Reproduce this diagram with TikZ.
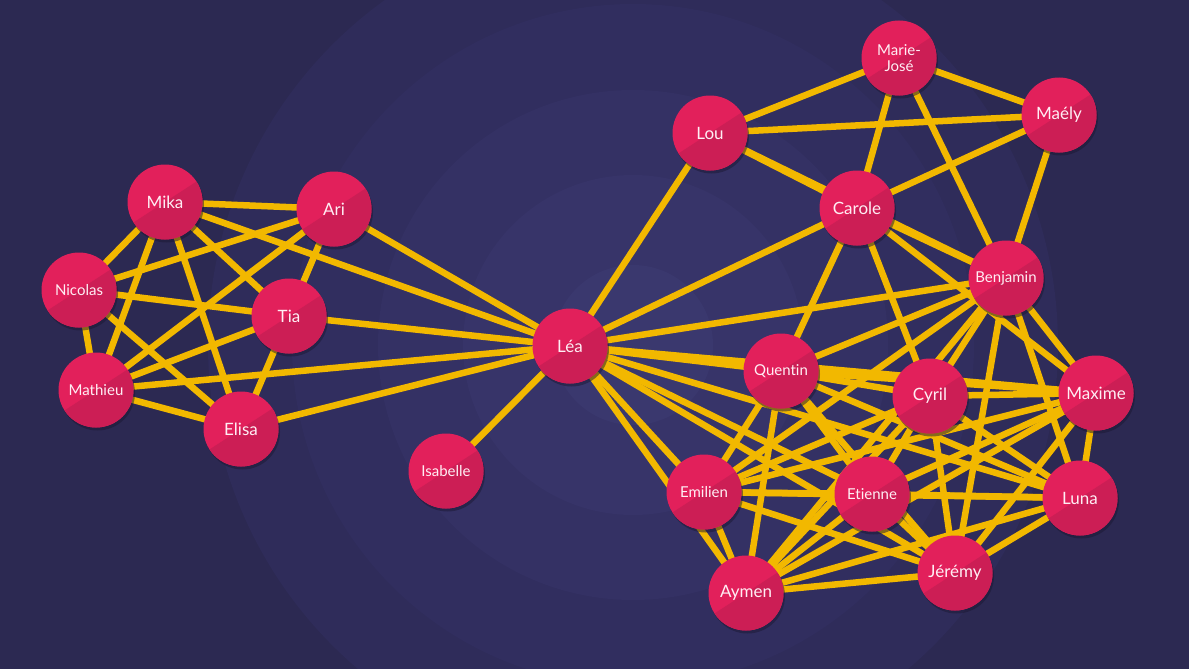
\documentclass[tikz,border=0pt]{standalone}
\usepackage{fontspec}
\setmainfont{Lato}[Ligatures=NoCommon]
\usetikzlibrary{shadows}
\definecolor{bgA}{RGB}{44,41,82}
\definecolor{bgB}{RGB}{47,44,90}
\definecolor{bgC}{RGB}{49,46,95}
\definecolor{bgD}{RGB}{52,49,100}
\definecolor{bgE}{RGB}{55,52,105}
\definecolor{bgF}{RGB}{58,56,110}
\definecolor{edgecol}{RGB}{242,184,0}
\definecolor{nlight}{RGB}{226,32,91}
\definecolor{ndark}{RGB}{204,30,85}
\definecolor{ntext}{RGB}{255,238,244}
\definecolor{shadowcol}{RGB}{28,25,52}
\pgfdeclarelayer{bglayer}
\pgfdeclarelayer{edgelayer}
\pgfsetlayers{bglayer,edgelayer,main}
\begin{document}
\begin{tikzpicture}[x=1pt,y=-1pt,
  person/.style={circle, minimum size=75pt, inner sep=0pt, fill=nlight,
    text=ntext, align=center,
    drop shadow={shadow xshift=1.5pt, shadow yshift=-3pt, opacity=0.5, fill=shadowcol},
    path picture={\fill[ndark] (path picture bounding box.center) ++(213:60pt)
       -- ++(33:120pt) -- ++(-57:60pt) -- ++(213:120pt) -- cycle;}},
  big/.style={font=\fontsize{17}{18}\selectfont},
  small/.style={font=\fontsize{15}{15.5}\selectfont},
  edge/.style={draw=edgecol, line width=6.5pt}]
\useasboundingbox (0,0) rectangle (1189,669);
\begin{pgfonlayer}{bglayer}
  \fill[bgA] (0,0) rectangle (1189,669);
  \fill[bgB] (633,345) circle[radius=425pt];
  \fill[bgC] (633,345) circle[radius=341pt];
  \fill[bgD] (633,345) circle[radius=255pt];
  \fill[bgE] (633,345) circle[radius=170pt];
  \fill[bgF] (633,345) circle[radius=80pt];
\end{pgfonlayer}
% nodes
\node[person,big]   (mika)    at (165,202) {Mika};
\node[person,big]   (ari)     at (334,209) {Ari};
\node[person,small] (nicolas) at (79,290)  {Nicolas};
\node[person,big]   (tia)     at (289,316) {Tia};
\node[person,small] (mathieu) at (96,390)  {Mathieu};
\node[person,big]   (elisa)   at (241,429) {Elisa};
\node[person,big]   (lea)     at (570,346) {Léa};
\node[person,small] (isabelle) at (446,471) {Isabelle};
\node[person,big]   (lou)     at (710,133) {Lou};
\node[person,small] (mj)      at (899,58)  {Marie-\\José};
\node[person,big]   (maely)   at (1059,115) {Maély};
\node[person,big]   (carole)  at (857,208) {Carole};
\node[person,small] (benjamin) at (1006,278) {Benjamin};
\node[person,small] (quentin) at (781,371) {Quentin};
\node[person,big]   (cyril)   at (930,396) {Cyril};
\node[person,big]   (maxime)  at (1096,393) {Maxime};
\node[person,small] (emilien) at (704,492) {Emilien};
\node[person,small] (etienne) at (872,494) {Etienne};
\node[person,big]   (luna)    at (1080,498) {Luna};
\node[person,big]   (aymen)   at (746,593) {Aymen};
\node[person,big]   (jeremy)  at (955,573) {Jérémy};
% edges
\begin{pgfonlayer}{edgelayer}
\foreach \a/\b in {mika/ari, mika/nicolas, mika/mathieu, mika/elisa, mika/tia, mika/lea,
  ari/nicolas, ari/mathieu, ari/tia, ari/lea,
  nicolas/tia, nicolas/mathieu, nicolas/elisa,
  tia/mathieu, tia/elisa, tia/lea,
  mathieu/elisa, mathieu/lea, elisa/lea, lea/isabelle,
  lou/mj, lou/maely, lou/carole, lou/benjamin, lou/lea,
  mj/maely, mj/carole, mj/benjamin,
  maely/carole, maely/benjamin,
  carole/lea, carole/benjamin, carole/quentin, carole/cyril, carole/maxime,
  benjamin/lea, benjamin/quentin, benjamin/emilien, benjamin/aymen, benjamin/cyril,
  benjamin/jeremy, benjamin/luna, benjamin/maxime,
  lea/quentin, lea/maxime, lea/luna, lea/etienne, lea/jeremy, lea/emilien, lea/aymen,
  quentin/cyril, quentin/maxime, quentin/emilien, quentin/aymen, quentin/etienne,
  quentin/jeremy, quentin/luna,
  cyril/maxime, cyril/emilien, cyril/aymen, cyril/etienne, cyril/jeremy, cyril/luna,
  maxime/luna, maxime/jeremy, maxime/etienne, maxime/emilien, maxime/aymen,
  emilien/etienne, emilien/aymen, emilien/jeremy, emilien/luna,
  etienne/luna, etienne/jeremy, etienne/aymen,
  aymen/jeremy, aymen/luna, jeremy/luna}
  \draw[edge] (\a.center) -- (\b.center);
\end{pgfonlayer}
\end{tikzpicture}
\end{document}
